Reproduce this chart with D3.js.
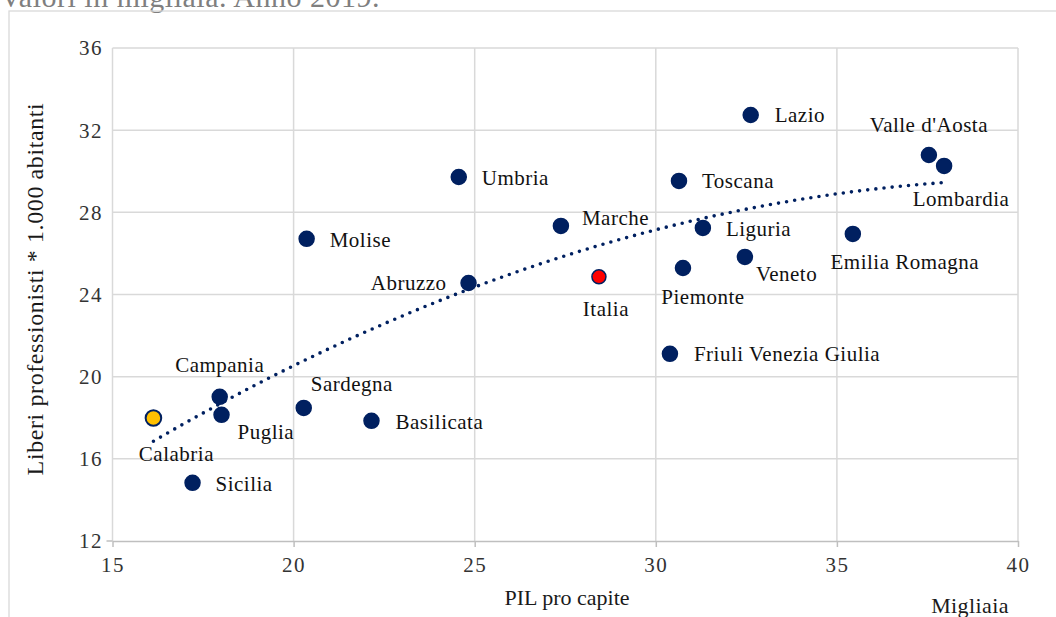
<!DOCTYPE html>
<html>
<head>
<meta charset="utf-8">
<script src="https://cdn.jsdelivr.net/npm/d3@7"></script>
<style>
  body { margin: 0; background: #fff; }
  svg text { font-family: "Liberation Serif", "Times New Roman", serif; }
</style>
</head>
<body>
<svg id="chart" width="1056" height="617"></svg>
<script>
// regioni, PIL pro capite (migliaia) e liberi professionisti ogni 1.000 abitanti
const regions = ["Lazio", "Valle d'Aosta", "Lombardia", "Emilia Romagna", "Veneto", "Piemonte",
    "Liguria", "Toscana", "Friuli Venezia Giulia", "Marche", "Umbria", "Abruzzo", "Molise",
    "Campania", "Puglia", "Sardegna", "Basilicata", "Calabria", "Sicilia"]
const pil = [32.62, 37.54, 37.96, 35.44, 32.46, 30.75, 31.30, 30.64, 30.39, 27.38, 24.56,
    24.83, 20.36, 17.96, 18.01, 20.28, 22.15, 16.13, 17.21]
const professionisti = [32.74, 30.79, 30.26, 26.95, 25.83, 25.29, 27.24, 29.53, 21.11, 27.34,
    29.72, 24.56, 26.71, 19.02, 18.14, 18.48, 17.85, 17.99, 14.83]
const italia = { name: "Italia", pil: 28.43, professionisti: 24.86 }
const xTicks = [15, 20, 25, 30, 35, 40]
const yTicks = [12, 16, 20, 24, 28, 32, 36]

const navy = "#002060"
const svg = d3.select("#chart")

const x = d3.scaleLinear().domain([15, 40]).range([112.5, 1018])
const y = d3.scaleLinear().domain([12, 36]).range([541, 48])

/* label placement: anchor, dx, dy (from point centre to text middle) */
const labelPos = {
    "Lazio": ["start", 24, 0], "Valle d'Aosta": ["middle", 0, -30], "Lombardia": ["middle", 17, 33],
    "Emilia Romagna": ["middle", 52, 28], "Veneto": ["start", 11, 17], "Piemonte": ["middle", 20, 29],
    "Liguria": ["start", 23, 1], "Toscana": ["start", 23, 0], "Friuli Venezia Giulia": ["start", 24, 0],
    "Marche": ["start", 21, -8], "Umbria": ["start", 23, 1], "Abruzzo": ["end", -22, 0],
    "Molise": ["start", 23, 1], "Campania": ["middle", 0, -32], "Puglia": ["start", 16, 17],
    "Sardegna": ["start", 7, -24], "Basilicata": ["start", 24, 1], "Calabria": ["middle", 23, 36],
    "Sicilia": ["start", 23, 1], "Italia": ["middle", 7, 32]
}

// subtitle, cut at the top
svg.append("text").attr("x", 0).attr("y", 7).attr("fill", "#7f7f7f")
    .attr("letter-spacing", "0.5px").style("font-size", "30px").text("Valori in migliaia. Anno 2019.")

// chart frame
svg.append("rect").attr("x", 9).attr("y", 11).attr("width", 1200).attr("height", 800)
    .attr("fill", "none").attr("stroke", "#d9d9d9").attr("stroke-width", 1.3)

// grid
svg.append("g").selectAll("line").data(yTicks.slice(1)).join("line")
    .attr("x1", x(15)).attr("x2", x(40)).attr("y1", d => y(d)).attr("y2", d => y(d))
    .attr("stroke", "#d9d9d9").attr("stroke-width", 1.5)
svg.append("g").selectAll("line").data(xTicks).join("line")
    .attr("x1", d => x(d)).attr("x2", d => x(d)).attr("y1", y(12)).attr("y2", y(36))
    .attr("stroke", "#d9d9d9").attr("stroke-width", 1.5)

// x axis
const xAxis = svg.append("g").attr("transform", `translate(0,${y(12)})`)
    .call(d3.axisBottom(x).tickValues(xTicks).tickSize(6).tickPadding(10).tickSizeOuter(0))
xAxis.select(".domain").attr("stroke", "#bfbfbf").attr("stroke-width", 1.5)
xAxis.selectAll(".tick line").attr("stroke", "#bfbfbf").attr("stroke-width", 1.5)
xAxis.selectAll("text").style("font-size", "21px").attr("fill", "#333")
    .style("font-family", "Liberation Serif").attr("letter-spacing", "1.5px")

// y axis labels
svg.append("line").attr("x1", x(15) - 6).attr("x2", x(15)).attr("y1", y(12)).attr("y2", y(12))
    .attr("stroke", "#bfbfbf").attr("stroke-width", 1.5)
svg.append("g").selectAll("text").data(yTicks).join("text")
    .attr("x", 103).attr("y", d => y(d)).attr("dy", "0.35em").attr("text-anchor", "end")
    .attr("fill", "#333").attr("letter-spacing", "1.5px").style("font-size", "21px").text(d => d)

// axis titles
svg.append("text").attr("transform", "translate(43,289) rotate(-90)").attr("text-anchor", "middle")
    .attr("fill", "#1a1a1a").style("font-size", "24px").attr("letter-spacing", "0.6px")
    .text("Liberi professionisti * 1.000 abitanti")
svg.append("text").attr("x", 567).attr("y", 605).attr("text-anchor", "middle")
    .attr("fill", "#1a1a1a").style("font-size", "22px").text("PIL pro capite")
svg.append("text").attr("x", 970).attr("y", 613).attr("text-anchor", "middle")
    .attr("fill", "#1a1a1a").style("font-size", "22px").attr("letter-spacing", "0.4px").text("Migliaia")

// polynomial (2nd order) trend line over the regions, like Excel
const pts = regions.map((r, i) => [pil[i], professionisti[i]])
function polyFit(data) {
    const s = [0, 0, 0, 0, 0], t = [0, 0, 0]
    data.forEach(([a, b]) => {
        for (let k = 0; k < 5; k++) s[k] += a ** k
        for (let k = 0; k < 3; k++) t[k] += b * a ** k
    })
    const m = [[s[0], s[1], s[2], t[0]], [s[1], s[2], s[3], t[1]], [s[2], s[3], s[4], t[2]]]
    for (let i = 0; i < 3; i++) {
        for (let j = i + 1; j < 3; j++) {
            const f = m[j][i] / m[i][i]
            for (let k = i; k < 4; k++) m[j][k] -= f * m[i][k]
        }
    }
    const c = [0, 0, 0]
    for (let i = 2; i >= 0; i--) {
        let v = m[i][3]
        for (let k = i + 1; k < 3; k++) v -= m[i][k] * c[k]
        c[i] = v / m[i][i]
    }
    return c
}
const coef = polyFit(pts)
const [xmin, xmax] = d3.extent(pil)
const trend = d3.range(0, 101).map(i => {
    const xv = xmin + (xmax - xmin) * i / 100
    return [xv, coef[0] + coef[1] * xv + coef[2] * xv * xv]
})
svg.append("path").datum(trend)
    .attr("d", d3.line().x(d => x(d[0])).y(d => y(d[1])))
    .attr("fill", "none").attr("stroke", navy).attr("stroke-width", 3.6)
    .attr("stroke-linecap", "round").attr("stroke-dasharray", "0 8.2")

// points
const points = regions.map((r, i) => ({ name: r, pil: pil[i], professionisti: professionisti[i] }))
points.push(italia)
const fillOf = d => d.name === "Italia" ? "#ff0000" : d.name === "Calabria" ? "#ffc000" : navy

svg.append("g").selectAll("circle").data(points).join("circle")
    .attr("cx", d => x(d.pil)).attr("cy", d => y(d.professionisti))
    .attr("r", d => d.name === "Italia" ? 7 : d.name === "Calabria" ? 7.8 : 7.5)
    .attr("fill", fillOf).attr("stroke", navy).attr("stroke-width", d => d.name === "Calabria" ? 2 : 1.5)

svg.append("g").selectAll("text").data(points).join("text")
    .attr("x", d => x(d.pil) + labelPos[d.name][1])
    .attr("y", d => y(d.professionisti) + labelPos[d.name][2])
    .attr("dy", "0.32em")
    .attr("text-anchor", d => labelPos[d.name][0])
    .attr("fill", "#111").attr("letter-spacing", "0.5px").style("font-size", "21px")
    .text(d => d.name)
</script>
</body>
</html>
